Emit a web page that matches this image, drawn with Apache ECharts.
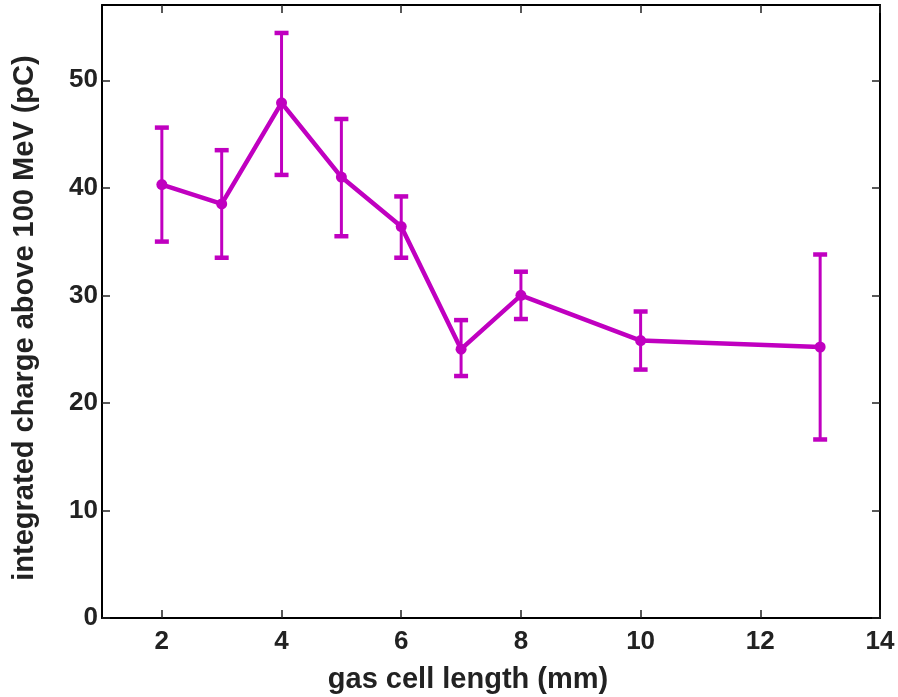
<!DOCTYPE html>
<html>
<head>
<meta charset="utf-8">
<script src="https://cdn.jsdelivr.net/npm/echarts@6/dist/echarts.min.js"></script>
<style>html,body{margin:0;padding:0;background:#fff;}#c{width:898px;height:697px;}</style>
</head>
<body>
<div id="c"></div>
<script>
const lengths = [2, 3, 4, 5, 6, 7, 8, 10, 13];
const charge = [40.3, 38.5, 47.9, 41.0, 36.4, 25.0, 30.0, 25.8, 25.2];
const upper = [45.6, 43.5, 54.4, 46.4, 39.2, 27.7, 32.2, 28.5, 33.8];
const lower = [35.0, 33.5, 41.2, 35.5, 33.5, 22.5, 27.8, 23.1, 16.6];
const xTicks = [2, 4, 6, 8, 10, 12, 14];
const yTicks = [0, 10, 20, 30, 40, 50];

const color = '#c000c0';
const font = '"Liberation Sans", Arial, Helvetica, sans-serif';

const chart = echarts.init(document.getElementById('c'), null, {renderer: 'canvas'});

const axisCommon = {
  axisLine: {show: true, onZero: false, lineStyle: {color: '#000', width: 2}},
  axisTick: {show: true, inside: true, length: 8, lineStyle: {color: '#222', width: 1.5}},
  splitLine: {show: false}
};

chart.setOption({
  animation: false,
  backgroundColor: '#fff',
  grid: {left: 102, right: 18, top: 5, bottom: 79, containLabel: false},
  xAxis: [
    Object.assign({}, axisCommon, {
      type: 'value', min: 1, max: 14, position: 'bottom',
      axisTick: Object.assign({}, axisCommon.axisTick, {customValues: xTicks}),
      axisLabel: {customValues: xTicks, margin: 11, color: '#222', fontSize: 26, fontWeight: 'bold', fontFamily: font}
    }),
    Object.assign({}, axisCommon, {
      type: 'value', min: 1, max: 14, position: 'top',
      axisTick: Object.assign({}, axisCommon.axisTick, {customValues: xTicks}),
      axisLabel: {show: false}
    })
  ],
  yAxis: [
    Object.assign({}, axisCommon, {
      type: 'value', min: 0, max: 57, position: 'left',
      axisTick: Object.assign({}, axisCommon.axisTick, {customValues: yTicks}),
      axisLabel: {customValues: yTicks, margin: 4, color: '#222', fontSize: 26, fontWeight: 'bold', fontFamily: font}
    }),
    Object.assign({}, axisCommon, {
      type: 'value', min: 0, max: 57, position: 'right',
      axisTick: Object.assign({}, axisCommon.axisTick, {customValues: yTicks}),
      axisLabel: {show: false}
    })
  ],
  graphic: [
    {type: 'text', position: [468, 680], style: {text: 'gas cell length (mm)', font: 'bold 29px ' + font, fill: '#222', textAlign: 'center', textVerticalAlign: 'middle'}},
    {type: 'text', rotation: Math.PI / 2, position: [25, 318], style: {text: 'integrated charge above 100 MeV (pC)', font: 'bold 29px ' + font, fill: '#222', textAlign: 'center', textVerticalAlign: 'middle'}}
  ],
  series: [
    {
      type: 'custom',
      xAxisIndex: 0, yAxisIndex: 0,
      data: lengths.map((x, i) => [x, lower[i], upper[i]]),
      renderItem: function (params, api) {
        const x = api.value(0);
        const lo = api.coord([x, api.value(1)]);
        const hi = api.coord([x, api.value(2)]);
        const hw = 7;
        const st = {stroke: color, lineWidth: 3};
        const cap = {stroke: color, lineWidth: 4.5};
        return {
          type: 'group',
          children: [
            {type: 'line', shape: {x1: lo[0], y1: lo[1], x2: hi[0], y2: hi[1]}, style: st},
            {type: 'line', shape: {x1: hi[0] - hw, y1: hi[1], x2: hi[0] + hw, y2: hi[1]}, style: cap},
            {type: 'line', shape: {x1: lo[0] - hw, y1: lo[1], x2: lo[0] + hw, y2: lo[1]}, style: cap}
          ]
        };
      },
      z: 2
    },
    {
      type: 'line',
      xAxisIndex: 0, yAxisIndex: 0,
      data: lengths.map((x, i) => [x, charge[i]]),
      symbol: 'circle', symbolSize: 11,
      lineStyle: {color: color, width: 4.5},
      itemStyle: {color: color},
      z: 3
    }
  ]
});
</script>
</body>
</html>
